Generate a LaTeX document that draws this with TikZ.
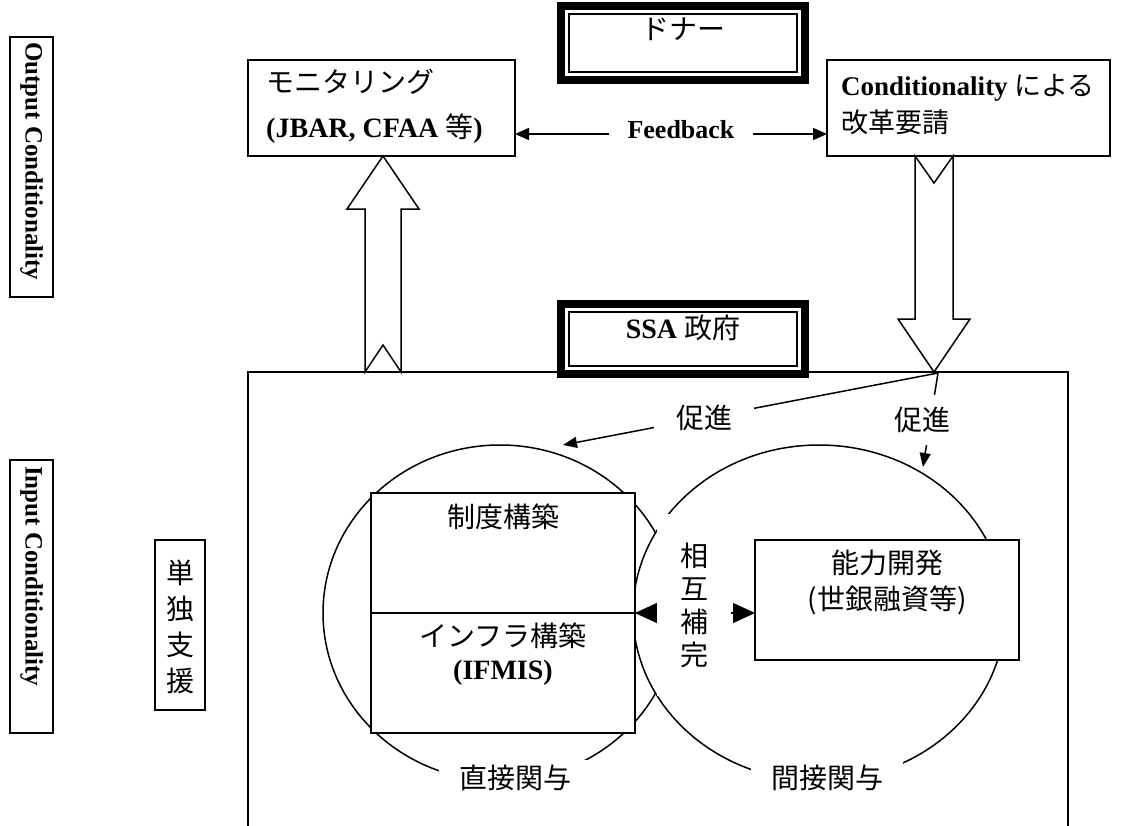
\documentclass[tikz,border=0pt]{standalone}
\usepackage{fontspec}
\setmainfont{Liberation Serif}
\newfontfamily\jpf{Noto Sans CJK JP}
\usetikzlibrary{arrows.meta,shapes.geometric,calc}
\newcommand\fszA{\fontsize{28}{28}\selectfont}
\newcommand\fszC{\fontsize{27}{28}\selectfont}
\newcommand\fszB{\fontsize{25}{28}\selectfont}
\newcommand\fszF{\fontsize{26}{28}\selectfont}
\begin{document}
\begin{tikzpicture}[x=1pt,y=-1pt,
 box/.style={draw,line width=1.5pt,fill=white,rectangle,inner sep=0pt,outer sep=0pt},
 dbl/.style={draw,line width=8pt,fill=white,rectangle,inner sep=0pt,outer sep=0pt},
 thinframe/.style={draw,line width=1.5pt},
 jtxt/.style={inner sep=0pt,font=\fszA\jpf},
 etxt/.style={inner sep=0pt,font=\fszA\bfseries},
 mask/.style={fill=white,inner sep=0pt},
 oval/.style={draw,ellipse,line width=1.5pt,fill=white,inner sep=0pt,outer sep=0pt},
 bigarrow/.style={draw,line width=1.5pt,fill=white,line join=miter},
 fbarrow/.style={line width=1.5pt,{Triangle[length=14pt,width=12pt]}-{Triangle[length=14pt,width=12pt]}},
 prom/.style={line width=1.5pt,-{Triangle[length=14pt,width=11pt]}},
 mutual/.style={line width=1.5pt,{Triangle[length=22pt,width=20pt]}-{Triangle[length=22pt,width=20pt]}},
]
\useasboundingbox (0,0) rectangle (1133,825);
\clip (0,0) rectangle (1133,825);

% side labels
\node[box, minimum width=43pt, minimum height=260pt] (outbox) at (31.5,167) {};
\node[rotate=-90, anchor=west, inner sep=0pt, font=\fszB\bfseries] (outtxt) at (31.5,42) {Output Conditionality};
\node[box, minimum width=43pt, minimum height=273pt] (inbox) at (31.5,596.5) {};
\node[rotate=-90, anchor=west, inner sep=0pt, font=\fszB\bfseries] (intxt) at (31.5,466) {Input Conditionality};
\node[box, minimum width=50pt, minimum height=170pt] (solo) at (180,625) {};
\node[inner sep=0pt, align=center, font=\fontsize{28}{36}\selectfont\jpf] (solotxt) at (180,627) {単\\独\\支\\援};

% government frame
\draw[line width=1.5pt] (248,900) -- (248,372) -- (1068,372) -- (1068,900);

% donor
\node[dbl, minimum width=244pt, minimum height=74pt] (donor) at (683,43) {};
\draw[thinframe] ([shift={(8,8)}]donor.north west) rectangle ([shift={(-8,-8)}]donor.south east);
\node[jtxt] (donortxt) at (683,29) {ドナー};

% SSA government
\node[dbl, minimum width=244pt, minimum height=70pt] (ssa) at (683,339) {};
\draw[thinframe] ([shift={(8,8)}]ssa.north west) rectangle ([shift={(-8,-8)}]ssa.south east);
\node[inner sep=0pt, font=\fszA\bfseries] (ssatxt) at (683,328) {SSA {\jpf\mdseries 政府}};

% monitoring
\node[box, minimum width=267pt, minimum height=96pt] (mon) at (381.5,108) {};
\node[jtxt, anchor=west] (mon1) at (266,82) {モニタリング};
\node[etxt, anchor=west] (mon2) at (266,129) {(JBAR, CFAA {\jpf\mdseries 等})};

% conditionality
\node[box, minimum width=283pt, minimum height=96pt] (cond) at (968.5,108) {};
\node[inner sep=0pt, font=\fszC\bfseries, anchor=west] (cond1) at (841,88) {Conditionality {\jpf\mdseries による}};
\node[inner sep=0pt, font=\fszC\jpf, anchor=west] (cond2) at (841,122) {改革要請};

% feedback
\draw[fbarrow] ($(mon.south east)+(0,-22)$) -- ($(cond.south west)+(0,-22)$);
\node[mask, inner xsep=19pt, inner ysep=4pt, font=\fszF\bfseries] (fb) at (681,130) {Feedback};

% big hollow arrows
\coordinate (upbase) at (383,372);
\coordinate (uptip) at (383,156);
\draw[bigarrow] ($(upbase)+(-18,0)$) -- ($(upbase)+(0,-27)$) -- ($(upbase)+(18,0)$)
  -- ($(uptip)+(18,53)$) -- ($(uptip)+(36,53)$) -- (uptip) -- ($(uptip)+(-36,53)$)
  -- ($(uptip)+(-18,53)$) -- cycle;
\coordinate (dntail) at (934,156);
\coordinate (dntip) at (934,372);
\draw[bigarrow] ($(dntail)+(-19,0)$) -- ($(dntail)+(0,27)$) -- ($(dntail)+(19,0)$)
  -- ($(dntip)+(19,-53)$) -- ($(dntip)+(36,-53)$) -- (dntip) -- ($(dntip)+(-36,-53)$)
  -- ($(dntip)+(-19,-53)$) -- cycle;

% circles
\node[oval, minimum width=354pt, minimum height=336pt] (lc) at (500,613) {};
\node[oval, minimum width=372pt, minimum height=336pt] (rc) at (819,613) {};

% left stacked box
\node[box, minimum width=264pt, minimum height=240pt] (lr) at (503,613) {};
\draw[line width=1.5pt] (lr.west) -- (lr.east);
\node[jtxt] (lr1) at (503,517) {制度構築};
\node[jtxt] (lr2) at (503,636) {インフラ構築};
\node[etxt] (lr3) at (503,673) {(IFMIS)};

% capacity box
\node[box, minimum width=264pt, minimum height=120pt] (ab) at (887,600) {};
\node[jtxt] (ab1) at (887,563) {能力開発};
\node[jtxt] (ab2) at (887,600) {(世銀融資等)};

% mutual complement
\coordinate (mid) at (700,613);
\draw[mutual] (lr.east) -- (ab.west |- mid);
\node[mask, minimum width=74pt, minimum height=182pt, align=center, font=\fontsize{28}{33}\selectfont\jpf] (mut) at (694,605) {相\\互\\補\\完};

% promotion
\coordinate (src) at (938,373);
\coordinate (lend) at (563,445);
\coordinate (rend) at (923,467);
\draw[prom] (src) -- (lend);
\draw[prom] (src) -- (rend);
\node[mask, inner xsep=22pt, inner ysep=4pt, font=\fszA\jpf] (p1) at (704,418) {促進};
\node[mask, inner xsep=4pt, inner ysep=12pt, font=\fszA\jpf] (p2) at (922,420) {促進};

% involvement labels
\node[mask, inner xsep=20pt, inner ysep=5pt, font=\fszA\jpf] (d1) at (515,778) {直接関与};
\node[mask, inner xsep=20pt, inner ysep=5pt, font=\fszA\jpf] (d2) at (827,778) {間接関与};
\end{tikzpicture}
\end{document}
